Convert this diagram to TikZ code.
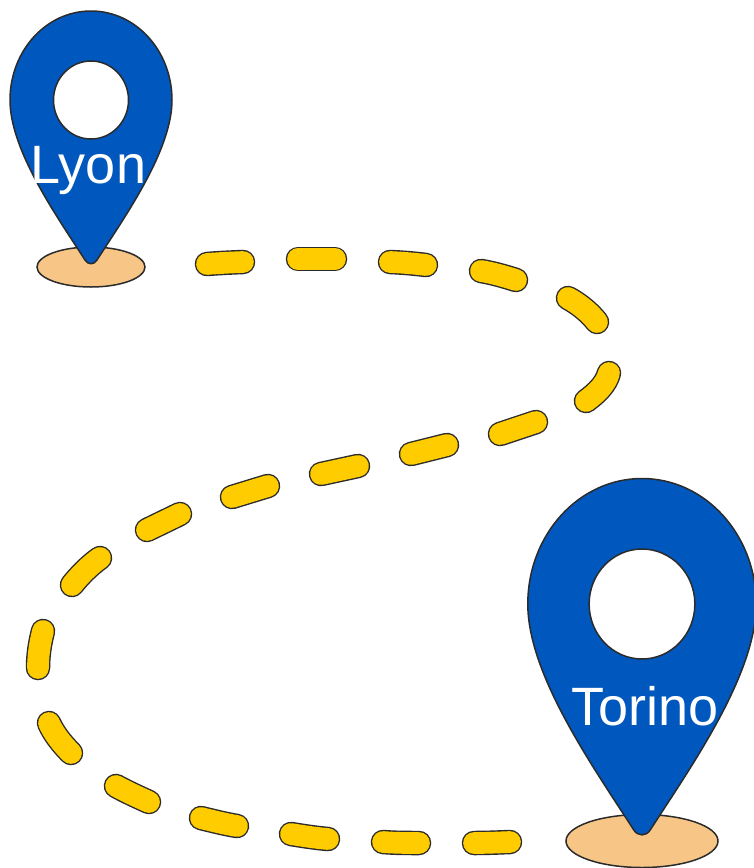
\documentclass[tikz,border=0pt]{standalone}
\usepackage{fontspec}
\setmainfont{Liberation Sans}
\definecolor{pinblue}{HTML}{0057BD}
\definecolor{baseorange}{HTML}{F7C686}
\definecolor{dashyellow}{HTML}{FFCC00}
\definecolor{edgegrey}{HTML}{2B2B2B}
\tikzset{
  pinbody/.style={fill=pinblue,draw=edgegrey,line width=1.5pt,line join=round},
  pinhole/.style={fill=white,draw=edgegrey,line width=1.5pt},
  pinbase/.style={fill=baseorange,draw=edgegrey,line width=1.5pt},
  pinlabel/.style={text=white,font=\fontsize{54}{54}\selectfont,inner sep=0pt,anchor=base},
  dashedge/.style={draw=edgegrey,line width=24.5pt,line cap=round},
  dashfill/.style={draw=dashyellow,line width=21.7pt,line cap=round}
}
\newcommand{\pathdash}[1]{\draw[dashedge] #1; \draw[dashfill] #1;}
\newcommand{\mappin}[3]{%
  \begin{scope}[shift={(#1,#2)}]
    \draw[pinbody] (-81*#3,0) .. controls (-81*#3,-49*#3) and (-45*#3,-89*#3) .. (0,-89*#3)
      .. controls (45*#3,-89*#3) and (81*#3,-49*#3) .. (81*#3,0)
      .. controls (81*#3,50*#3) and (35*#3,115*#3) .. (6*#3,160*#3)
      .. controls (3*#3,165*#3) and (-3*#3,165*#3) .. (-6*#3,160*#3)
      .. controls (-35*#3,115*#3) and (-81*#3,50*#3) .. (-81*#3,0) -- cycle;
    \draw[pinhole] (0,0) ellipse [x radius=37.5*#3, y radius=39*#3];
  \end{scope}}
\begin{document}
\begin{tikzpicture}[x=1pt,y=-1pt]
\useasboundingbox (0,0) rectangle (753,868);
% bases
\draw[pinbase] (91,267) ellipse [x radius=54, y radius=20];
\draw[pinbase] (642,841) ellipse [x radius=76, y radius=26.5];
% pins
\mappin{91}{100}{1}
\mappin{642}{604}{1.41}
\node[pinlabel] (lyon) at (88.5,183) {Lyon};
\node[pinlabel] (torino) at (645,725.5) {Torino};
% route
\pathdash{(207,264) .. controls (219,263) and (231,262.5) .. (243,262)}
\pathdash{(298,259) -- (335,259)}
\pathdash{(390,262) .. controls (402,262.5) and (414,263.5) .. (426,265)}
\pathdash{(481,271) .. controls (493,273) and (505,276.5) .. (516,280)}
\pathdash{(568,298) .. controls (579,304) and (589,312) .. (597,322)}
\pathdash{(609,373) .. controls (606,384) and (597,393) .. (586,401)}
\pathdash{(536,422) -- (500,434)}
\pathdash{(447,445) -- (411,454)}
\pathdash{(358,466) -- (321,474)}
\pathdash{(268,486) -- (232,497)}
\pathdash{(180,514) -- (147,530)}
\pathdash{(100,558) .. controls (90,565) and (80,575) .. (72,585)}
\pathdash{(43,631) .. controls (40,643) and (38,655) .. (38,668)}
\pathdash{(49,723) .. controls (54,734) and (62,744) .. (71,753)}
\pathdash{(116,786) .. controls (127,792) and (138,797) .. (149,802)}
\pathdash{(201,818) .. controls (213,821) and (225,824) .. (237,826)}
\pathdash{(291,834) .. controls (303,836) and (316,838) .. (328,839)}
\pathdash{(383,842) .. controls (395,843) and (407,843) .. (419,843)}
\pathdash{(474,843) .. controls (486,843) and (498,842.5) .. (510,842)}
\end{tikzpicture}
\end{document}
